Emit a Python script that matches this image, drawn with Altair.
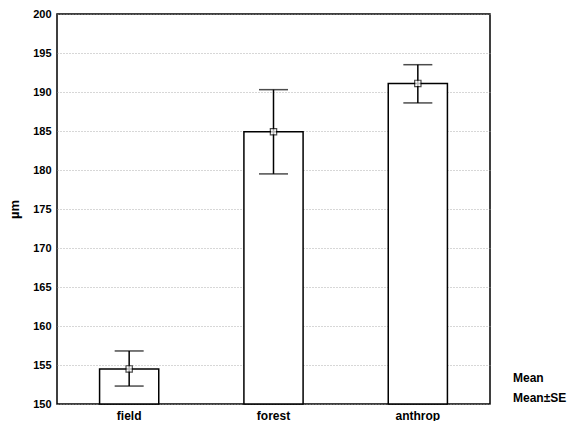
import altair as alt
import pandas as pd

categories = ["field", "forest", "anthrop"]
means = [154.5, 184.9, 191.1]
se_low = [152.3, 179.5, 188.6]
se_high = [156.8, 190.3, 193.5]
y_ticks = [150, 155, 160, 165, 170, 175, 180, 185, 190, 195, 200]
legend_items = ["Mean", "Mean±SE"]

df = pd.DataFrame({"cat": categories, "mean": means, "lo": se_low, "hi": se_high,
                   "lab": ["Mean"] * 3})

FONT = "Liberation Sans"
xaxis = alt.Axis(labelAngle=0, labelFont=FONT, labelFontWeight="bold",
                 labelFontSize=12, labelColor="black", ticks=False,
                 domain=False, labelPadding=6)
xscale = alt.Scale(paddingInner=0.59, paddingOuter=0.295)
yscale = alt.Scale(domain=[150, 200], nice=False, zero=False)
yaxis = alt.Axis(values=y_ticks, title="µm", titleFont=FONT, titleFontWeight="bold",
                 titleFontSize=13, titleColor="black", titlePadding=11,
                 labelFont=FONT, labelFontWeight="bold", labelFontSize=11,
                 labelColor="black", ticks=False, domain=False, labelPadding=6,
                 labelOverlap=False,
                 grid=True, gridColor="#999999", gridDash=[1, 2], gridWidth=0.8)


def X():
    return alt.X("cat:N", sort=categories, title=None, scale=xscale, axis=xaxis)


def Y(field):
    return alt.Y(field, scale=yscale, axis=yaxis, title="µm")


base = alt.Chart(df)

bars = base.mark_bar(fill="white", stroke="black", strokeWidth=1.5).encode(
    x=X(), y=Y("mean:Q"), y2=alt.Y2(datum=150))

rule = base.mark_rule(color="black", strokeWidth=1.5).encode(
    x=X(), y=Y("lo:Q"), y2="hi:Q")

cap_lo = base.mark_tick(color="black", size=29, thickness=1.5, orient="horizontal").encode(
    x=X(), y=Y("lo:Q"))
cap_hi = base.mark_tick(color="black", size=29, thickness=1.5, orient="horizontal").encode(
    x=X(), y=Y("hi:Q"))

ibeam = "M-0.6,-1H0.6M0,-1V1M-0.6,1H0.6"
pts = base.mark_point(size=40, filled=False, stroke="black", fill="white",
                      strokeWidth=1.2).encode(
    x=X(), y=Y("mean:Q"),
    shape=alt.Shape("lab:N", title=None,
                    scale=alt.Scale(domain=legend_items, range=["square", ibeam]),
                    legend=alt.Legend(orient="none", legendX=440, legendY=358,
                                      labelFont=FONT, labelFontWeight="bold",
                                      labelFontSize=12, labelColor="black",
                                      symbolStrokeColor="black",
                                      symbolSize=70, rowPadding=4, labelOffset=4)))

chart = alt.layer(bars, rule, cap_lo, cap_hi, pts).properties(
    width=433, height=390,
    padding={"left": 0, "top": 0, "right": 0, "bottom": 0},
    background="white",
).configure_view(stroke="black", strokeWidth=1.5)

chart.save("out.html", embed_options={"renderer": "svg", "actions": False})
